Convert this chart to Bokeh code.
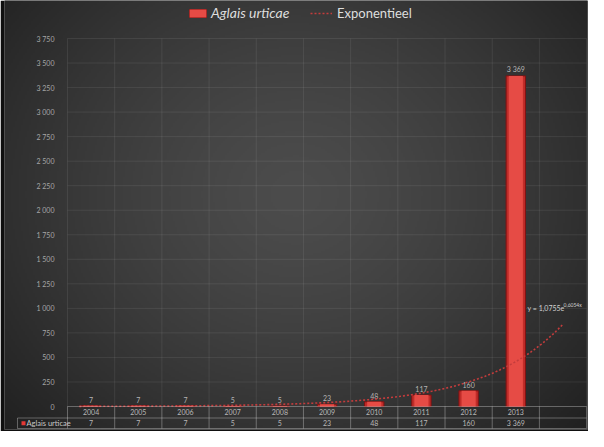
import numpy as np
from bokeh.plotting import figure
from bokeh.models import (ColumnDataSource, Range1d, LinearAxis, FixedTicker,
                          CustomJSTickFormatter, Legend, LegendItem)
from bokeh.core.properties import value
from bokeh.embed import file_html
from bokeh.resources import INLINE

# ---------------- data ----------------
YEARS = ["2004", "2005", "2006", "2007", "2008", "2009", "2010", "2011", "2012", "2013", ""]
COUNTS = [7, 7, 7, 5, 5, 23, 48, 117, 160, 3369]
SERIES_NAME = "Aglais urticae"
TREND_NAME = "Exponentieel"
Y_TICKS = [0, 250, 500, 750, 1000, 1250, 1500, 1750, 2000, 2250, 2500, 2750, 3000, 3250, 3500, 3750]


def fmt(v):
    return f"{v:,}".replace(",", " ")


# ---------------- layout ----------------
W, H = 588, 431
MB_L, MB_R, MB_T, MB_B = 4, 1, 0, 2
FRAME_W = W - MB_L - MB_R
FRAME_H = H - MB_T - MB_B
PX_X = 47.19                      # px per category
X0_PX = 63                        # px from frame left to first category boundary
X_START = 0.5 - X0_PX / PX_X
X_END = X_START + FRAME_W / PX_X
PX_Y = 368 / Y_TICKS[-1]          # px per unit
ZERO_PX = 406                     # px from frame top to value 0
Y_END = ZERO_PX / PX_Y
Y_START = -(FRAME_H - ZERO_PX) / PX_Y
ROW_H = 11.5 / PX_Y
ROW1 = -ROW_H
ROW2 = -2 * ROW_H + 1 / PX_Y
HEADER_LEFT = 0.5 - 50 / PX_X

FONT = value("Lato")

n = len(COUNTS)
idx = np.arange(1, n + 1)
idx_all = np.arange(1, len(YEARS) + 1)
bounds = np.arange(0.5, len(YEARS) + 1, 1.0)

p = figure(width=W, height=H, output_backend="svg", toolbar_location=None,
           x_axis_type=None, y_axis_type=None,
           x_range=Range1d(X_START, X_END), y_range=Range1d(Y_START, Y_END),
           min_border_left=MB_L, min_border_right=MB_R, min_border_top=MB_T,
           min_border_bottom=MB_B, border_fill_color="#0f0f0f",
           background_fill_color="#2c2c2c", outline_line_color=None)

# ---------------- radial background ----------------
ny, nx = 215, 292
U, V = np.meshgrid(np.linspace(0, 1, nx), np.linspace(0, 1, ny))
d = np.sqrt(((U - 0.5) / 0.7) ** 2 + ((V - 0.55) / 0.85) ** 2)
t = np.clip(d, 0, 1) ** 1.4
light, dark = 0x4c, 0x1e
g = (light + (dark - light) * t).astype(np.uint8)
img = np.empty((ny, nx), dtype=np.uint32)
view = img.view(dtype=np.uint8).reshape((ny, nx, 4))
view[..., 0] = g
view[..., 1] = g
view[..., 2] = g
view[..., 3] = 255
p.image_rgba(image=[img], x=X_START, y=Y_START, dw=X_END - X_START, dh=Y_END - Y_START, level="image")

# ---------------- grid ----------------
p.segment(x0=bounds, y0=0, x1=bounds, y1=Y_TICKS[-1], line_color="white", line_alpha=0.08, line_width=1)
p.segment(x0=bounds[0], y0=Y_TICKS[1:], x1=bounds[-1], y1=Y_TICKS[1:], line_color="white",
          line_alpha=0.08, line_width=1)

# ---------------- bars ----------------
src = ColumnDataSource(dict(x=idx, top=COUNTS, label=[fmt(c) for c in COUNTS]))
base = p.vbar(x="x", top="top", bottom=0, width=0.41, source=src,
              fill_color="#c02c29", line_color="#801212", line_width=1)
inner = p.vbar(x="x", top="top", bottom=0, width=0.30, source=src,
               fill_color="#e64b45", line_color=None)
p.text(x="x", y="top", text="label", source=src, text_align="center", text_baseline="bottom",
       y_offset=-3, text_font=FONT, text_font_size="7px", text_color="#b4b4b4")

# ---------------- exponential trend (fitted from the data) ----------------
b, a = np.polyfit(idx, np.log(COUNTS), 1)
A = float(np.exp(a))
tx = np.linspace(1 - 0.25, n + 1, 200)
ty = A * np.exp(b * tx)
trend = p.line(tx, ty, line_color="#c43c3c", line_width=1.6, line_dash="2 2")
eq_main = f"y = {A:.4f}e".replace(".", ",")
eq_sup = f"{b:.4f}x".replace(".", ",")
EQ_X, EQ_Y = 10.25, 1000
p.text(x=[EQ_X], y=[EQ_Y], text=[eq_main], text_align="left", text_baseline="middle",
       text_font=FONT, text_font_size="7px", text_color="#d2d2d2")
p.text(x=[EQ_X], y=[EQ_Y], text=[eq_sup], text_align="left", text_baseline="middle",
       x_offset=36, y_offset=-3, text_font=FONT, text_font_size="5px", text_color="#d2d2d2")

# ---------------- data table ----------------
TL = dict(line_color="white", line_alpha=0.3, line_width=1)
p.segment(x0=bounds[0], y0=0, x1=bounds[-1], y1=0, **TL)
p.segment(x0=HEADER_LEFT, y0=[ROW1, ROW2], x1=bounds[-1], y1=[ROW1, ROW2], **TL)
p.segment(x0=bounds, y0=0, x1=bounds, y1=ROW2, **TL)
p.segment(x0=HEADER_LEFT, y0=ROW1, x1=HEADER_LEFT, y1=ROW2, **TL)

p.text(x=idx_all, y=(0 + ROW1) / 2, text=YEARS, text_align="center", text_baseline="middle",
       text_font=FONT, text_font_size="7px", text_color="#b8b8b8")
p.text(x=idx_all, y=(ROW1 + ROW2) / 2, text=[fmt(c) for c in COUNTS] + [""],
       text_align="center", text_baseline="middle",
       text_font=FONT, text_font_size="7px", text_color="#b8b8b8")
p.scatter(x=[HEADER_LEFT + 6 / PX_X], y=[(ROW1 + ROW2) / 2], marker="square", size=4,
          fill_color="#e53935", line_color=None)
p.text(x=[HEADER_LEFT + 9 / PX_X], y=[(ROW1 + ROW2) / 2], text=[SERIES_NAME], text_align="left",
       text_baseline="middle", text_font=FONT, text_font_size="7.5px", text_color="#c8c8c8")

# ---------------- y axis ----------------
yaxis = LinearAxis(fixed_location=0.5, ticker=FixedTicker(ticks=Y_TICKS),
                   formatter=CustomJSTickFormatter(
                       code=r"return Math.round(tick).toString().replace(/\B(?=(\d{3})+(?!\d))/g, ' ');"),
                   axis_line_color=None, major_tick_line_color=None, minor_tick_line_color=None,
                   major_label_text_font="Lato", major_label_text_font_size="7px",
                   major_label_text_color="#a6a6a6", major_label_standoff=7)
p.add_layout(yaxis, "left")

# ---------------- legends ----------------
LEG_Y = FRAME_H - 13 - 8
leg1 = Legend(items=[LegendItem(label=SERIES_NAME, renderers=[base, inner])],
              location=(183, LEG_Y), orientation="horizontal", background_fill_alpha=0,
              border_line_color=None, padding=0, margin=0, spacing=0, label_standoff=3,
              glyph_width=21, glyph_height=10, label_height=16,
              label_text_font="Lato", label_text_font_style="italic",
              label_text_font_size="14px", label_text_color="#dedede")
leg2 = Legend(items=[LegendItem(label=TREND_NAME, renderers=[trend])],
              location=(306, LEG_Y), orientation="horizontal", background_fill_alpha=0,
              border_line_color=None, padding=0, margin=0, spacing=0, label_standoff=5,
              glyph_width=22, glyph_height=10, label_height=16,
              label_text_font="Lato", label_text_font_size="13px", label_text_color="#dedede")
p.add_layout(leg1, "center")
p.add_layout(leg2, "center")

open("out.html", "w").write(file_html(p, INLINE))
